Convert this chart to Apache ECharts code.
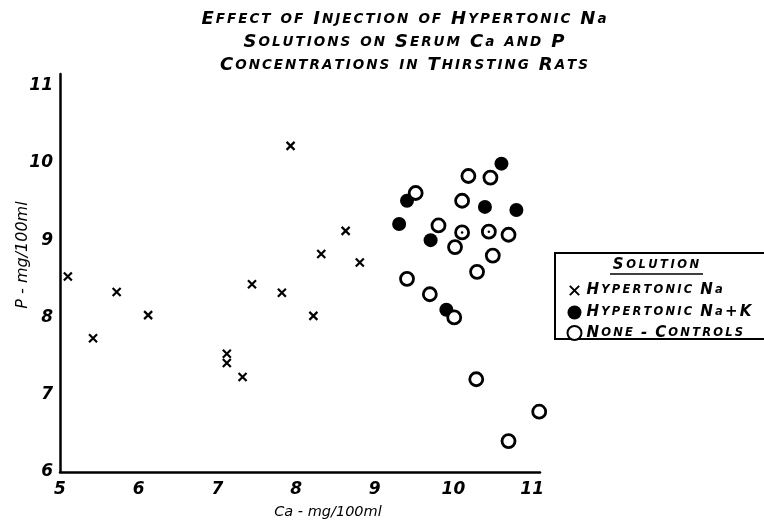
<!DOCTYPE html>
<html>
<head>
<meta charset="utf-8">
<script src="https://cdn.jsdelivr.net/npm/echarts@6/dist/echarts.min.js"></script>
<style>
  html, body { margin: 0; padding: 0; background: #fff; }
  #chart { width: 764px; height: 527px; }
</style>
</head>
<body>
<div id="chart"></div>
<script>
// Ca (x) and P (y), mg/100ml
const naX = [5.10, 5.42, 5.72, 6.12, 7.12, 7.12, 7.32, 7.44, 7.82, 7.93, 8.22, 8.32, 8.63, 8.81]
const naY = [8.53, 7.73, 8.33, 8.03, 7.53, 7.41, 7.23, 8.43, 8.32, 10.22, 8.02, 8.82, 9.12, 8.71]
const naKX = [10.61, 9.41, 9.31, 9.71, 10.40, 10.80, 9.91]
const naKY = [9.99, 9.51, 9.21, 9.00, 9.43, 9.39, 8.10]
const ctrlX = [9.52, 10.19, 10.47, 10.11, 9.81, 10.11, 10.45, 10.70, 10.02, 10.50, 10.30, 9.41, 9.70, 10.01, 10.29, 11.09, 10.70]
const ctrlY = [9.61, 9.83, 9.81, 9.51, 9.19, 9.10, 9.11, 9.07, 8.91, 8.80, 8.59, 8.50, 8.30, 8.00, 7.20, 6.78, 6.40]
// two control circles have a small dot drawn in the middle
const dotX = [10.11, 10.45]
const dotY = [9.10, 9.11]

const seriesNames = ['Hypertonic Na', 'Hypertonic Na+K', 'None - Controls']
const titleLines = ['Effect of Injection of Hypertonic Na', 'Solutions on Serum Ca and P', 'Concentrations in Thirsting Rats']

const ink = '#000'
const font = 'DejaVu Sans'
const crossPath = 'path://M0,0M12,12M2,2L10,10M10,2L2,10'

// hand lettering look: capitals big, lowercase as small caps, letters spaced out
function lettered(str) {
  return str.split(' ').map((w) => {
    const keepLower = /^(Na|Ca)/.test(w)
    const parts = []
    for (const ch of w) {
      if (ch >= 'a' && ch <= 'z')
        parts.push('{s|' + (keepLower ? ch : ch.toUpperCase()) + '}')
      else
        parts.push('{b|' + ch + '}')
    }
    return parts.join('{g| }')
  }).join('{w| }')
}

function pairs(xs, ys) {
  return xs.map((x, i) => [x, ys[i]])
}

function intLabel(v) {
  return Math.abs(v - Math.round(v)) < 1e-6 ? String(Math.round(v)) : ''
}

function richSet(big, small, gap, word, lh, key) {
  const base = { fontFamily: font, fontStyle: 'italic', fontWeight: 'bold', lineHeight: lh }
  base[key] = ink
  return {
    b: { ...base, fontSize: big },
    s: { ...base, fontSize: small },
    g: { ...base, fontSize: 4, width: gap },
    w: { ...base, fontSize: 4, width: word },
  }
}

const axisText = { color: ink, fontFamily: font, fontStyle: 'italic', fontWeight: 'bold', fontSize: 17 }

const option = {
  backgroundColor: '#fff',
  animation: false,
  title: {
    text: titleLines.map(lettered).join('\n'),
    left: 399,
    top: 3,
    textAlign: 'center',
    textStyle: {
      rich: richSet(18, 13.5, 2, 10, 23, 'color'),
    },
  },
  grid: {
    left: 60,
    right: 224,
    top: 74,
    bottom: 55,
  },
  xAxis: {
    type: 'value',
    min: 5,
    max: 11.1,
    interval: 1,
    splitLine: { show: false },
    axisTick: { show: false },
    axisLine: { show: true, onZero: false, lineStyle: { color: ink, width: 2.5 } },
    axisLabel: { ...axisText, margin: 9, formatter: intLabel },
  },
  yAxis: {
    type: 'value',
    min: 6,
    max: 11.15,
    interval: 1,
    splitLine: { show: false },
    axisTick: { show: false },
    axisLine: { show: true, onZero: false, lineStyle: { color: ink, width: 2.5 } },
    axisLabel: { ...axisText, margin: 7, formatter: intLabel },
  },
  legend: {
    orient: 'vertical',
    left: 565,
    top: 281,
    padding: 0,
    itemWidth: 14,
    itemHeight: 14,
    itemGap: 5,
    data: seriesNames,
    formatter: (name) => lettered(name),
    textStyle: {
      lineHeight: 14,
      rich: richSet(15, 11.5, 2.2, 8, 14, 'color'),
    },
  },
  graphic: [
    {
      type: 'rect',
      shape: { x: 555, y: 253, width: 220, height: 86 },
      style: { fill: 'none', stroke: ink, lineWidth: 2 },
    },
    {
      type: 'text',
      x: 656,
      y: 265,
      style: {
        text: lettered('Solution'),
        align: 'center',
        verticalAlign: 'middle',
        rich: richSet(15, 11.5, 2.5, 8, 16, 'fill'),
      },
    },
    {
      type: 'line',
      shape: { x1: 610, y1: 274, x2: 703, y2: 274 },
      style: { stroke: ink, lineWidth: 1.5 },
    },
    {
      type: 'text',
      x: 328,
      y: 512,
      style: {
        text: 'Ca - mg/100ml',
        align: 'center',
        verticalAlign: 'middle',
        fontFamily: font,
        fontStyle: 'italic',
        fontSize: 14.5,
        fill: ink,
      },
    },
    {
      type: 'text',
      x: 23,
      y: 255,
      rotation: Math.PI / 2,
      style: {
        text: 'P - mg/100ml',
        align: 'center',
        verticalAlign: 'middle',
        fontFamily: font,
        fontStyle: 'italic',
        fontSize: 16,
        fill: ink,
      },
    },
  ],
  series: [
    {
      name: seriesNames[0],
      type: 'scatter',
      clip: false,
      symbol: crossPath,
      symbolSize: 12,
      itemStyle: { color: 'none', borderColor: ink, borderWidth: 2.2, opacity: 1 },
      data: pairs(naX, naY),
    },
    {
      name: seriesNames[1],
      type: 'scatter',
      clip: false,
      symbol: 'circle',
      symbolSize: 14,
      itemStyle: { color: ink, opacity: 1 },
      data: pairs(naKX, naKY),
    },
    {
      name: seriesNames[2],
      type: 'scatter',
      clip: false,
      symbol: 'circle',
      symbolSize: 13,
      itemStyle: { color: '#fff', borderColor: ink, borderWidth: 2.8, opacity: 1 },
      data: pairs(ctrlX, ctrlY),
    },
    {
      name: 'dots',
      type: 'scatter',
      clip: false,
      symbol: 'circle',
      symbolSize: 2.5,
      itemStyle: { color: ink, opacity: 1 },
      data: pairs(dotX, dotY),
    },
  ],
}

const chart = echarts.init(document.getElementById('chart'), null, { renderer: 'canvas' })
chart.setOption(option)
</script>
</body>
</html>
